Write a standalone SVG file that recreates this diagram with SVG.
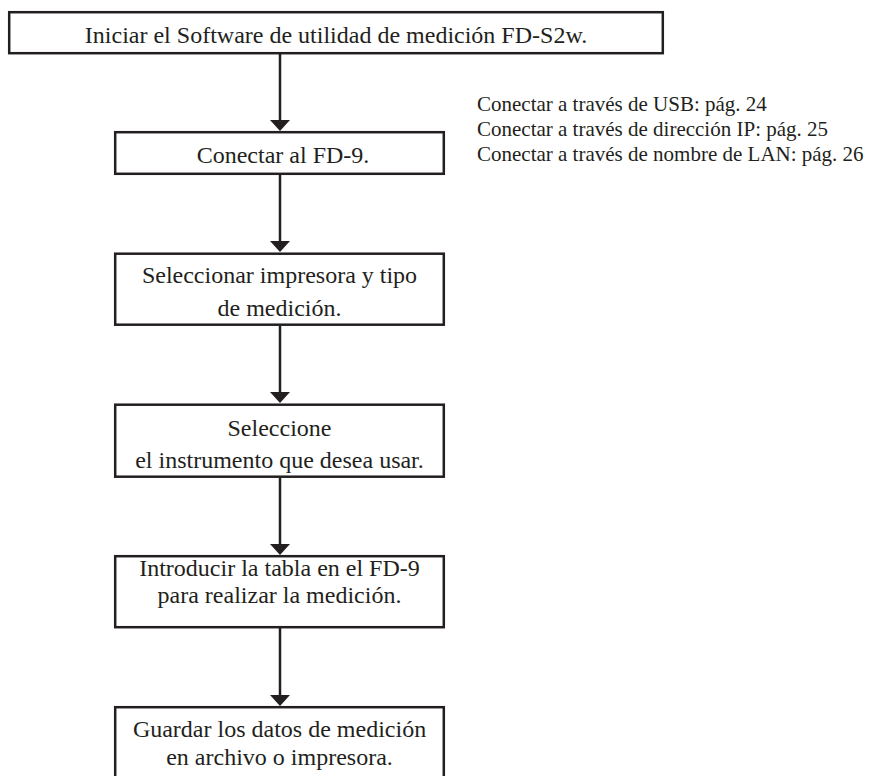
<svg xmlns="http://www.w3.org/2000/svg" width="871" height="776" viewBox="0 0 871 776">
<style>
.box{fill:#fff;stroke:#231f20;stroke-width:2.5}
.t{font-family:"Liberation Serif","Times New Roman",serif;font-size:24px;fill:#231f20;text-anchor:middle}
.n{font-family:"Liberation Serif","Times New Roman",serif;font-size:21px;fill:#231f20}
.c{stroke:#231f20;stroke-width:2.5;fill:none}
.h{fill:#231f20}
</style>
<rect width="871" height="776" fill="#fff"/>
<g id="connectors">
<line class="c" x1="280" y1="54" x2="280" y2="122"/>
<polygon class="h" points="270,120 290,120 280,131"/>
<line class="c" x1="280" y1="175" x2="280" y2="243"/>
<polygon class="h" points="270,241 290,241 280,252"/>
<line class="c" x1="280" y1="326" x2="280" y2="394"/>
<polygon class="h" points="270,392 290,392 280,403"/>
<line class="c" x1="280" y1="478" x2="280" y2="546"/>
<polygon class="h" points="270,544 290,544 280,555"/>
<line class="c" x1="280" y1="628" x2="280" y2="697"/>
<polygon class="h" points="270,695 290,695 280,706"/>
</g>
<g id="n1">
<rect class="box" x="9.2" y="12.2" width="653.6" height="41"/>
<text class="t" x="336" y="43">Iniciar el Software de utilidad de medición FD-S2w.</text>
</g>
<g id="n2">
<rect class="box" x="115.2" y="132.2" width="328.6" height="41.6"/>
<text class="t" x="283" y="163">Conectar al FD-9.</text>
</g>
<g id="note">
<text class="n" x="477" y="111">Conectar a través de USB: pág. 24</text>
<text class="n" x="477" y="136">Conectar a través de dirección IP: pág. 25</text>
<text class="n" x="477" y="161">Conectar a través de nombre de LAN: pág. 26</text>
</g>
<g id="n3">
<rect class="box" x="115.2" y="253.7" width="328.6" height="71"/>
<text class="t" x="279.5" y="283">Seleccionar impresora y tipo</text>
<text class="t" x="279.5" y="316">de medición.</text>
</g>
<g id="n4">
<rect class="box" x="115.2" y="404.7" width="328.6" height="72"/>
<text class="t" x="279.5" y="436">Seleccione</text>
<text class="t" x="279.5" y="468">el instrumento que desea usar.</text>
</g>
<g id="n5">
<rect class="box" x="115.2" y="556.2" width="328.6" height="71"/>
<text class="t" x="279.5" y="576">Introducir la tabla en el FD-9</text>
<text class="t" x="279.5" y="603">para realizar la medición.</text>
</g>
<g id="n6">
<rect class="box" x="115.2" y="707.2" width="328.6" height="80"/>
<text class="t" x="279.5" y="737">Guardar los datos de medición</text>
<text class="t" x="279.5" y="765">en archivo o impresora.</text>
</g>
</svg>
